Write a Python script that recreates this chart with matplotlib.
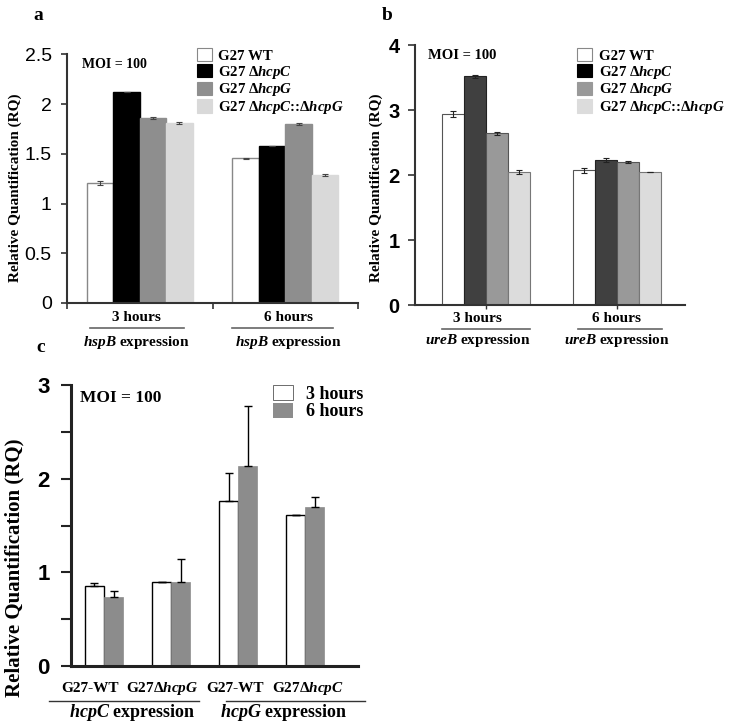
import numpy as np
import matplotlib
matplotlib.use("Agg")
from matplotlib import pyplot as plt
from matplotlib.patches import Patch
from matplotlib.lines import Line2D

plt.rcParams['font.family'] = ['Liberation Serif', 'DejaVu Serif']
plt.rcParams['font.weight'] = 'bold'
plt.rcParams['axes.labelweight'] = 'bold'
plt.rcParams['mathtext.fontset'] = 'custom'
plt.rcParams['mathtext.rm'] = 'Liberation Serif:bold'
plt.rcParams['mathtext.it'] = 'Liberation Serif:bold:italic'
plt.rcParams['mathtext.bf'] = 'Liberation Serif:bold'

# panel a: hspB expression
a_groups = ['3 hours', '6 hours']
a_wt = [1.21, 1.455]
a_dc = [2.12, 1.58]
a_dg = [1.86, 1.80]
a_dcg = [1.81, 1.29]
a_wt_err = [0.02, 0.005]
a_dc_err = [0.0, 0.0]
a_dg_err = [0.01, 0.01]
a_dcg_err = [0.008, 0.01]
a_yticks = [0, 0.5, 1, 1.5, 2, 2.5]

# panel b: ureB expression
b_groups = ['3 hours', '6 hours']
b_wt = [2.94, 2.07]
b_dc = [3.52, 2.23]
b_dg = [2.64, 2.20]
b_dcg = [2.04, 2.04]
b_wt_err = [0.05, 0.035]
b_dc_err = [0.025, 0.025]
b_dg_err = [0.02, 0.02]
b_dcg_err = [0.03, 0.0]
b_yticks = [0, 1, 2, 3, 4]

# panel c: hcpC / hcpG expression
c_strains = ['G27-WT', r'G27$\mathit{\Delta hcpG}$', 'G27-WT', r'G27$\mathit{\Delta hcpC}$']
c_3h = [0.85, 0.90, 1.76, 1.61]
c_6h = [0.74, 0.90, 2.14, 1.70]
c_3h_err = [0.035, 0.0, 0.30, 0.0]
c_6h_err = [0.06, 0.24, 0.64, 0.11]
c_yticks = [0, 1, 2, 3]

legend_names = ['G27 WT', r'G27 $\mathit{\Delta hcpC}$', r'G27 $\mathit{\Delta hcpG}$',
                r'G27 $\mathit{\Delta hcpC}$::$\mathit{\Delta hcpG}$']

fig = plt.figure(figsize=(7.31, 7.24), dpi=100)


def group_labels(ax, centers, names, gene, y_name, y_line, y_gene, spans, size=11):
    for cx, name, (x0, x1) in zip(centers, names, spans):
        ax.text(cx, y_name, name, transform=ax.transAxes, ha='center', va='center', fontsize=size)
        ax.add_line(Line2D([x0, x1], [y_line, y_line], transform=ax.transAxes,
                           color='#666666', lw=1.2, clip_on=False))
        ax.text(cx, y_gene, r'$\mathit{%s}$ expression' % gene, transform=ax.transAxes,
                ha='center', va='center', fontsize=size)


def style_axes(ax, lw, col):
    for s in ['top', 'right']:
        ax.spines[s].set_visible(False)
    for s in ['left', 'bottom']:
        ax.spines[s].set_linewidth(lw)
        ax.spines[s].set_color(col)


# ---------------- a ----------------
ax = fig.add_axes([0.0917, 0.5815, 0.3981, 0.3435])
w = 1.0
cent = np.array([2.75, 8.25])
a_cols = ['white', 'black', '#8e8e8e', '#d9d9d9']
a_edges = ['#888888', 'black', '#8e8e8e', '#d9d9d9']
for i, (vals, errs) in enumerate(zip([a_wt, a_dc, a_dg, a_dcg],
                                     [a_wt_err, a_dc_err, a_dg_err, a_dcg_err])):
    ax.bar(cent + (i - 1.5) * w, vals, w, yerr=errs, color=a_cols[i], edgecolor=a_edges[i],
           lw=1.0, capsize=2, error_kw=dict(ecolor='#444444', elinewidth=0.8, capthick=0.8))
ax.set_xlim(0, 11)
ax.set_ylim(0, 2.5)
ax.set_yticks(a_yticks)
ax.set_yticklabels(['0', '0.5', '1', '1.5', '2', '2.5'], family='Liberation Sans',
                   fontsize=14, weight='normal')
ax.set_xticks([0, 5.5, 11])
ax.set_xticklabels([])
ax.tick_params(axis='both', direction='out', length=4, width=1.2, color='#333333', pad=7)
style_axes(ax, 1.5, '#333333')
ax.set_ylabel('Relative Quantification (RQ)', fontsize=11)
ax.yaxis.set_label_coords(-0.155, 0.462)
ax.text(0.052, 0.96, 'MOI = 100', transform=ax.transAxes, fontsize=10, va='center')
handles = [Patch(facecolor=c, edgecolor=e, lw=0.8) for c, e in zip(a_cols, ['#888888', 'black', '#8e8e8e', '#d9d9d9'])]
ax.legend(handles, legend_names, loc='upper left', bbox_to_anchor=(0.447, 1.025), frameon=False,
          fontsize=10.7, handlelength=1.0, handleheight=1.0, handletextpad=0.4, labelspacing=0.05,
          borderpad=0, borderaxespad=0)
group_labels(ax, [0.237, 0.76], a_groups, 'hspB', -0.06, -0.10, -0.157,
             [(0.079, 0.402), (0.567, 0.914)])
fig.text(0.053, 0.979, 'a', fontsize=14, ha='center', va='center')

# ---------------- b ----------------
ax = fig.add_axes([0.5677, 0.5787, 0.3694, 0.3591])
cent = np.array([3.22, 9.2])
b_cols = ['white', '#404040', '#999999', '#dcdcdc']
b_edges = ['#555555', '#222222', '#555555', '#777777']
for i, (vals, errs) in enumerate(zip([b_wt, b_dc, b_dg, b_dcg],
                                     [b_wt_err, b_dc_err, b_dg_err, b_dcg_err])):
    ax.bar(cent + (i - 1.5) * w, vals, w, yerr=errs, color=b_cols[i], edgecolor=b_edges[i],
           lw=0.8, capsize=2, error_kw=dict(ecolor='#222222', elinewidth=0.8, capthick=0.8))
ax.set_xlim(0, 12.27)
ax.set_ylim(0, 4)
ax.set_yticks(b_yticks)
ax.set_yticklabels([str(t) for t in b_yticks], family='Liberation Sans', fontsize=14.5, weight='bold')
ax.set_xticks(cent)
ax.set_xticklabels([])
ax.tick_params(axis='y', direction='out', length=5, width=1.2, color='#333333', pad=6)
ax.tick_params(axis='x', direction='out', length=3, width=1.0, color='#333333')
style_axes(ax, 1.5, '#333333')
ax.set_ylabel('Relative Quantification (RQ)', fontsize=11)
ax.yaxis.set_label_coords(-0.12, 0.45)
ax.text(0.05, 0.96, 'MOI = 100', transform=ax.transAxes, fontsize=10.5, va='center')
handles = [Patch(facecolor=c, edgecolor=e, lw=0.8) for c, e in
           zip(['white', 'black', '#999999', '#dcdcdc'], ['#888888', 'black', '#999999', '#dcdcdc'])]
ax.legend(handles, legend_names, loc='upper left', bbox_to_anchor=(0.6, 0.988), frameon=False,
          fontsize=10.7, handlelength=1.0, handleheight=1.0, handletextpad=0.45, labelspacing=0.05,
          borderpad=0, borderaxespad=0)
group_labels(ax, [0.232, 0.748], b_groups, 'ureB', -0.05, -0.092, -0.138,
             [(0.099, 0.426), (0.604, 0.915)])
fig.text(0.53, 0.979, 'b', fontsize=14, ha='center', va='center')

# ---------------- c ----------------
ax = fig.add_axes([0.0967, 0.080, 0.3933, 0.3882])
cent = 1.75 + 3.52 * np.arange(len(c_3h))
ax.bar(cent - 0.5, c_3h, 1.0, yerr=[np.zeros(4), c_3h_err], color='white', edgecolor='black',
       lw=1.0, capsize=3, error_kw=dict(ecolor='black', elinewidth=1.0, capthick=1.0))
ax.bar(cent + 0.5, c_6h, 1.0, yerr=[np.zeros(4), c_6h_err], color='#8c8c8c', edgecolor='#8c8c8c',
       lw=0.5, capsize=3, error_kw=dict(ecolor='black', elinewidth=1.0, capthick=1.0))
ax.set_xlim(0, 15.1)
ax.set_ylim(0, 3)
ax.set_yticks(np.arange(0, 3.01, 0.5))
ax.set_yticklabels(['0', '', '1', '', '2', '', '3'], family='Liberation Sans', fontsize=16, weight='bold')
ax.set_xticks([])
ax.tick_params(axis='y', direction='out', length=7, width=1.5, color='#222222', pad=8)
style_axes(ax, 2.2, '#222222')
ax.set_ylabel('Relative Quantification (RQ)', fontsize=15)
ax.yaxis.set_label_coords(-0.159, 0.35)
ax.text(0.032, 0.955, 'MOI = 100', transform=ax.transAxes, fontsize=12.5, va='center')
ax.legend([Patch(facecolor='white', edgecolor='#555555', lw=0.6), Patch(facecolor='#8c8c8c')],
          ['3 hours', '6 hours'], loc='upper left', bbox_to_anchor=(0.705, 1.0), frameon=False,
          fontsize=13, handlelength=1.1, handleheight=0.9, handletextpad=0.7, labelspacing=0.0,
          borderpad=0, borderaxespad=0)
label_x = np.linspace(1.0, 12.45, len(c_strains))
for lx, name in zip(label_x, c_strains):
    ax.text(lx, -0.078, name, transform=ax.get_xaxis_transform(), ha='center', va='center',
            fontsize=11)
for (x0, x1), gene, gx in zip([(-0.0756, 0.447), (0.541, 1.025)], ['hcpC', 'hcpG'], [0.215, 0.742]):
    ax.add_line(Line2D([x0, x1], [-0.1235, -0.1235], transform=ax.transAxes, color='#333333',
                       lw=1.0, clip_on=False))
    ax.text(gx, -0.164, r'$\mathit{%s}$ expression' % gene, transform=ax.transAxes,
            ha='center', va='center', fontsize=13)
fig.text(0.055, 0.52, 'c', fontsize=14, ha='center', va='center')

fig.savefig('out.png', dpi=100)
